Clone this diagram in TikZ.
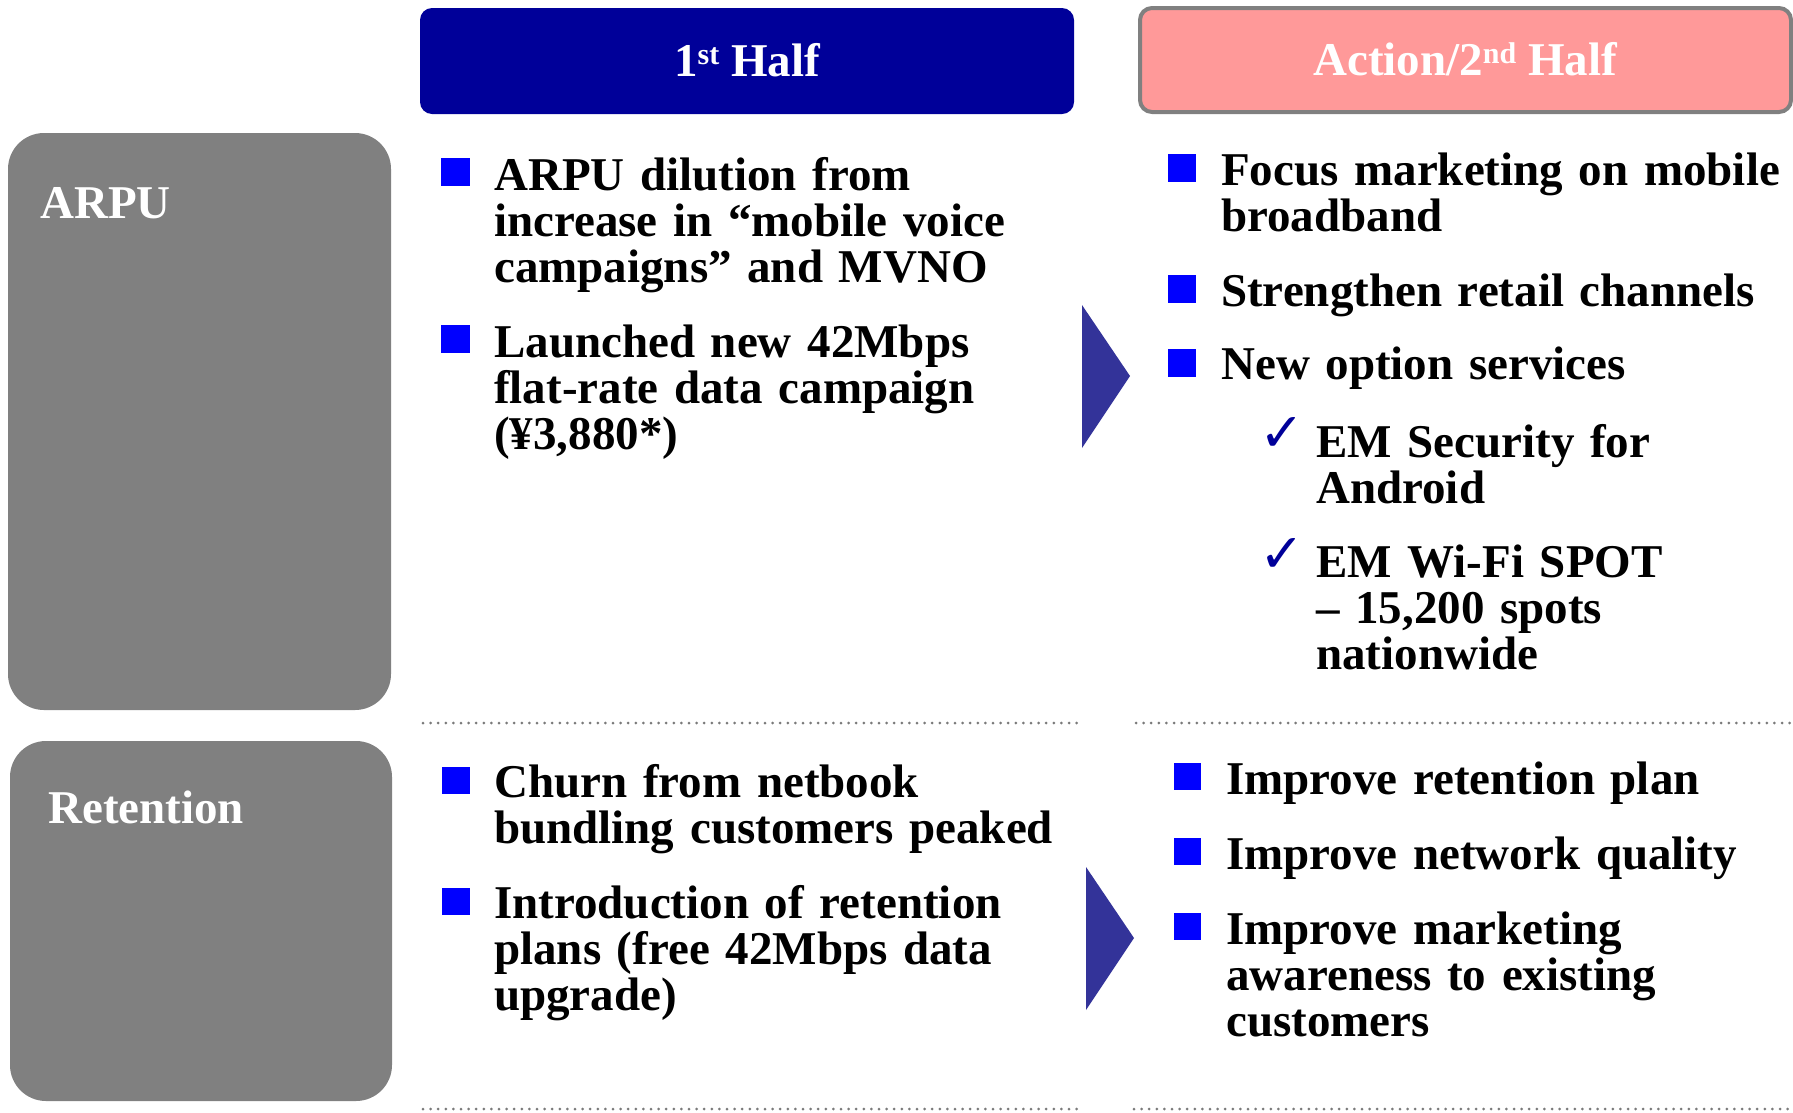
\documentclass[tikz,border=0pt]{standalone}
\usepackage{fontspec}
\setmainfont{Liberation Serif}
\newfontfamily\symfont{DejaVu Sans}
\definecolor{hdrblue}{HTML}{000099}
\definecolor{hdrpink}{HTML}{FF9999}
\definecolor{boxgray}{HTML}{808080}
\definecolor{bulblue}{HTML}{0000FF}
\definecolor{triblue}{HTML}{333399}
\definecolor{dotgray}{HTML}{7A7A7A}
\newcommand{\hsup}[1]{\raisebox{12pt}{\fontsize{30}{30}\selectfont #1}}
\begin{document}
\begin{tikzpicture}[x=1pt,y=-1pt,
  body/.style={anchor=base west, inner sep=0pt, text width=900pt, align=left,
    font=\fontsize{47}{46}\selectfont\bfseries},
  label/.style={anchor=base west, inner sep=0pt, text=white,
    font=\fontsize{47}{46}\selectfont\bfseries},
  header/.style={anchor=base, inner sep=0pt, text=white,
    font=\fontsize{47}{46}\selectfont\bfseries},
  sidebox/.style={fill=boxgray, rounded corners=36pt},
  bul/.style={fill=bulblue},
  tri/.style={fill=triblue},
  chk/.style={anchor=base west, inner sep=0pt, text=hdrblue,
    font=\symfont\fontsize{54}{54}\selectfont},
  dotline/.style={draw=dotgray, line width=3pt, line cap=round,
    dash pattern=on 0pt off 7.6pt}]
\useasboundingbox (0,0) rectangle (1793,1112);

% header boxes
\fill[hdrblue, rounded corners=12pt] (420,8) rectangle (1074,114);
\draw[fill=hdrpink, draw=boxgray, line width=4pt, rounded corners=12pt] (1140,8) rectangle (1791,112);
\node[header] (h1) at (747,76) {1\hsup{st} Half};
\node[header] (h2) at (1465,75) {Action/2\hsup{nd} Half};

% side boxes
\fill[sidebox] (8,133) rectangle (391,710);
\fill[sidebox] (10,741) rectangle (392,1101);
\node[label] (arpu) at (40,218) {ARPU};
\node[label] (ret) at (48,823) {Retention};

% dotted separators
\draw[dotline] (423,723) -- (1081,723);
\draw[dotline] (1136,723) -- (1793,723);
\draw[dotline] (423,1109) -- (1079,1109);
\draw[dotline] (1134,1109) -- (1793,1109);

% triangles
\fill[tri] (1082,305) -- (1130,376) -- (1082,448) -- cycle;
\fill[tri] (1086,867) -- (1134,938) -- (1086,1010) -- cycle;

% ARPU, 1st half
\fill[bul] (441,158) rectangle (470,186);
\node[body] (a1) at (494,190) {ARPU dilution from\\increase in “mobile voice\\campaigns” and MVNO};
\fill[bul] (441,325) rectangle (470,353);
\node[body] (a2) at (494,357) {Launched new 42Mbps\\flat-rate data campaign\\(¥3,880*)};

% ARPU, 2nd half
\fill[bul] (1168,154) rectangle (1196,182);
\node[body] (b1) at (1221,185) {Focus marketing on mobile\\broadband};
\fill[bul] (1168,275) rectangle (1196,303);
\node[body] (b2) at (1221,306) {Strengthen retail channels};
\fill[bul] (1168,349) rectangle (1196,377);
\node[body] (b3) at (1221,379) {New option services};
\node[chk] (c1) at (1259,451) {✓};
\node[body] (b4) at (1316,457) {EM Security for\\Android};
\node[chk] (c2) at (1259,572) {✓};
\node[body] (b5) at (1316,577) {EM Wi-Fi SPOT\\– 15,200 spots\\nationwide};

% Retention, 1st half
\fill[bul] (442,767) rectangle (470,794);
\node[body] (r1) at (494,797) {Churn from netbook\\bundling customers peaked};
\fill[bul] (442,888) rectangle (470,915);
\node[body] (r2) at (494,918) {Introduction of retention\\plans (free 42Mbps data\\upgrade)};

% Retention, 2nd half
\fill[bul] (1174,763) rectangle (1201,790);
\node[body] (s1) at (1226,794) {Improve retention plan};
\fill[bul] (1174,838) rectangle (1201,865);
\node[body] (s2) at (1226,869) {Improve network quality};
\fill[bul] (1174,913) rectangle (1201,940);
\node[body] (s3) at (1226,944) {Improve marketing\\awareness to existing\\customers};
\end{tikzpicture}
\end{document}
